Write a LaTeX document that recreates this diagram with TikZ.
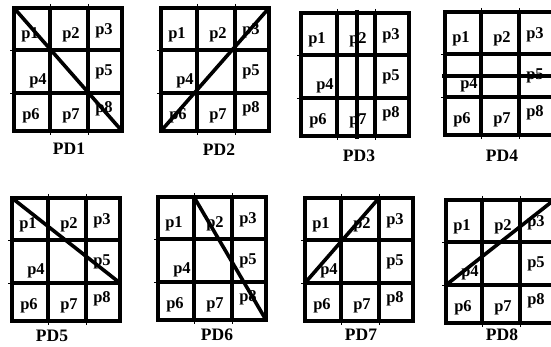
\documentclass[tikz,border=0pt]{standalone}
\usepackage{fontspec}
\setmainfont{Liberation Serif}

\tikzset{
  gridline/.style={line width=3.6pt},
  cutline/.style={line width=3.6pt},
  stubline/.style={line width=0.8pt},
  plabel/.style={font=\fontsize{16.5}{16.5}\selectfont\bfseries, inner sep=0pt},
  pdlabel/.style={font=\fontsize{17.5}{17.5}\selectfont\bfseries, inner sep=0pt},
}

% one 3x3 pixel grid: name, left, top
\newcommand{\pdgrid}[3]{%
  \begin{scope}[shift={(#2,#3)}]
    \foreach \i/\cx in {0/0,1/36,2/74,3/108} {
      \foreach \j/\ry in {0/0,1/42,2/85,3/123} {
        \coordinate (#1-\i-\j) at (\cx,\ry);
      }
    }
    \draw[stubline] (36,-4) -- (36,127);
    \draw[stubline] (74,-4) -- (74,127);
    \draw[stubline] (-4,42) -- (0,42);
    \draw[stubline] (-4,85) -- (0,85);
    \foreach \k/\lx/\ly in {1/16/27,2/57/27,3/90/23,4/24/73,5/90/64,6/17/108,7/57/108,8/90/101} {
      \node[plabel] (#1-p\k) at (\lx,\ly) {p\k};
    }
    \draw[gridline] (#1-0-0) rectangle (#1-3-3);
    \draw[gridline] (#1-1-0) -- (#1-1-3);
    \draw[gridline] (#1-2-0) -- (#1-2-3);
    \draw[gridline] (#1-0-1) -- (#1-3-1);
    \draw[gridline] (#1-0-2) -- (#1-3-2);
  \end{scope}%
}

\begin{document}
\begin{tikzpicture}[x=1pt, y=-1pt]
  \useasboundingbox (0,0) rectangle (551,347);

  % top row
  \pdgrid{pd1}{14}{8}
  \pdgrid{pd2}{161}{8}
  \pdgrid{pd3}{301}{13}
  \pdgrid{pd4}{445}{12}
  % bottom row
  \pdgrid{pd5}{12}{198}
  \pdgrid{pd6}{158}{197}
  \pdgrid{pd7}{305}{198}
  \pdgrid{pd8}{446}{200}

  % the cutting lines
  \draw[cutline] (pd1-0-0) -- (pd1-3-3);
  \draw[cutline] (pd2-0-3) -- (pd2-3-0);
  \draw[cutline] (357,10) -- (357,139);
  \draw[cutline] (442,76) -- (556,76);
  \draw[cutline] (pd5-0-0) -- (pd5-3-2);
  \draw[cutline] (pd6-1-0) -- (pd6-3-3);
  \draw[cutline] (pd7-0-2) -- (pd7-2-0);
  \draw[cutline] (pd8-0-2) -- (pd8-3-0);

  % names
  \node[pdlabel] (name1) at (69,149) {PD1};
  \node[pdlabel] (name2) at (219,150) {PD2};
  \node[pdlabel] (name3) at (359,156) {PD3};
  \node[pdlabel] (name4) at (502,156) {PD4};
  \node[pdlabel] (name5) at (52,336) {PD5};
  \node[pdlabel] (name6) at (217,335) {PD6};
  \node[pdlabel] (name7) at (361,335) {PD7};
  \node[pdlabel] (name8) at (502,335) {PD8};
\end{tikzpicture}
\end{document}
